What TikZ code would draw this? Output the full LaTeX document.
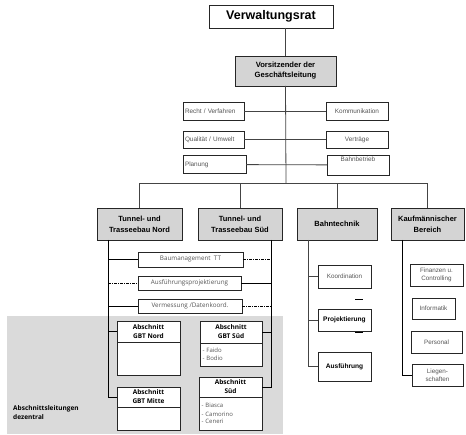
\documentclass[tikz,border=0pt]{standalone}
\usepackage{fontspec}
\setmainfont{Liberation Sans}
\newfontfamily\fru{Open Sans}
\definecolor{boxgray}{HTML}{D4D4D4}
\definecolor{bggray}{HTML}{DADADA}
\definecolor{txtgray}{HTML}{555555}
\definecolor{lngray}{HTML}{444444}
\begin{document}
\begin{tikzpicture}[x=1pt,y=-1pt,
  sz/.style 2 args={minimum width=#1pt, minimum height=#2pt},
  ln/.style={draw=lngray, line width=0.8pt},
  dd/.style={draw=black, line width=0.9pt, dash pattern=on 3pt off 1pt on 1pt off 1pt},
  bx/.style={draw=black!85, line width=0.8pt, fill=white, inner sep=1pt, outer sep=0pt},
  top/.style={bx, font=\fontsize{12.5}{14}\selectfont\bfseries},
  mainbox/.style={bx, fill=boxgray, align=center, font=\fontsize{7.5}{11}\selectfont\bfseries},
  staff/.style={bx, text=txtgray, font=\fontsize{6.4}{7}\selectfont},
  sub/.style={bx, text=txtgray, align=center, font=\fontsize{6.3}{8}\selectfont},
  fbox/.style={bx, text=txtgray, font=\fru\fontsize{6.3}{7}\selectfont},
  head/.style={bx, align=center, font=\fru\fontsize{6.5}{9}\selectfont\bfseries},
  body/.style={bx, align=left, anchor=north, text=txtgray, font=\fru\fontsize{6}{6.5}\selectfont},
  note/.style={align=left, inner sep=0pt, font=\fru\fontsize{6.5}{8.5}\selectfont\bfseries}
]
\useasboundingbox (0,0) rectangle (466,435);
\fill[white] (0,0) rectangle (466,435);
\fill[bggray] (7,316) rectangle (283,434);

% top
\node[top, sz={124}{23}] (vr) at (271,16.5) {Verwaltungsrat};
\node[mainbox, sz={101}{30}, font=\fontsize{7.6}{10}\selectfont\bfseries] (vs) at (285.5,71) {Vorsitzender der\\Geschäftsleitung};

% staff
\node[staff, sz={61}{18}, text width=57pt, align=left] (recht) at (213.5,111) {Recht / Verfahren};
\node[staff, sz={62}{18}, align=center] (komm) at (357,111) {Kommunikation};
\node[staff, sz={61}{17}, text width=57pt, align=left] (qual) at (213.5,139.5) {Qualität / Umwelt};
\node[staff, sz={62}{17}, align=center] (vertr) at (357,139.5) {Verträge};
\node[staff, sz={63}{18}, text width=59pt, align=left] (plan) at (214.5,164.5) {Planung};
\node[staff, sz={62}{20}, align=center] (bahnb) at (358,165) {Bahnbetrieb\\[4pt]};

\coordinate (bar) at (286,183);
\draw[ln] (vs.north |- vr.south) -- (vs.north);
\draw[ln] (recht) -- (komm);
\draw[ln] (qual) -- (vertr);
\draw[ln] (plan) -- (bahnb);
\draw[ln] (vs.south) -- (bar);

% main boxes
\node[mainbox, sz={85}{32}] (tn) at (139.5,224) {Tunnel- und\\Trasseebau Nord};
\node[mainbox, sz={84}{32}] (ts) at (240,224) {Tunnel- und\\Trasseebau Süd};
\node[mainbox, sz={80}{32}] (bt) at (337,224) {Bahntechnik};
\node[mainbox, sz={73}{32}] (kb) at (427.5,224) {Kaufmännischer\\Bereich};

\draw[ln] (tn.north) -- (tn.north |- bar) -- (kb.north |- bar) -- (kb.north);
\draw[ln] (ts.north) -- (ts.north |- bar);
\draw[ln] (bt.north) -- (bt.north |- bar);

% cross-functional boxes
\node[fbox, sz={105}{15}] (bm) at (190.5,259.5) {Baumanagement\ \ TT};
\node[fbox, sz={103}{14}] (ap) at (189.5,283) {Ausführungsprojektierung};
\node[fbox, sz={104}{14}] (vm) at (190,306) {Vermessung /Datenkoord.};

% section boxes
\node[head, sz={63}{21}] (gn) at (148.5,331.5) {Abschnitt\\GBT Nord};
\node[body, sz={63}{33}] (gnb) at (gn.south) {};
\node[head, sz={62}{22}] (gs) at (231,332) {Abschnitt\\GBT Süd};
\node[body, sz={62}{23}, text width=57pt] (gsb) at (gs.south) {- Faido\\[1pt]- Bodio};
\node[head, sz={63}{20}] (gm) at (148.5,397) {Abschnitt\\GBT Mitte};
\node[body, sz={63}{23}] (gmb) at (gm.south) {};
\node[head, sz={63}{20}] (sd) at (230.5,387) {Abschnitt\\Süd};
\node[body, sz={63}{33}, text width=58pt] (sdb) at (sd.south) {- Biasca\\[2.5pt]- Camorino\\- Ceneri\\[4pt]};
\node[note, anchor=west] (dez) at (13,412.5) {Abschnittsleitungen\\dezentral};

\coordinate (lsx) at (108,0);
\coordinate (rsx) at (271,0);
\draw[ln, draw=black] (tn.south -| lsx) -- (gm.west -| lsx) -- (gm.west);
\draw[ln, draw=black] (bm.west -| lsx) -- (bm.west);
\draw[dd] (ap.west -| lsx) -- (ap.west);
\draw[ln, draw=black] (vm.west -| lsx) -- (vm.west);
\draw[ln, draw=black] (gn.west -| lsx) -- (gn.west);
\draw[ln, draw=black] (ts.south -| rsx) -- (sd.east -| rsx) -- (sd.east);
\draw[dd] (bm.east) -- (bm.east -| rsx);
\draw[ln, draw=black] (ap.east) -- (ap.east -| rsx);
\draw[dd] (vm.east) -- (vm.east -| rsx);
\draw[ln, draw=black] (gs.east) -- (gs.east -| rsx);

% Bahntechnik
\node[sub, sz={53}{23}] (koord) at (344.5,276.5) {Koordination};
\node[sub, sz={53}{22}, font=\fontsize{6.6}{8}\selectfont\bfseries, text=black] (proj) at (344.5,320) {Projektierung};
\node[sub, sz={53}{29}, font=\fontsize{6.6}{8}\selectfont\bfseries, text=black] (aus) at (344.5,366.5) {Ausführung};
\coordinate (bsx) at (308,0);
\draw[ln] (bt.south -| bsx) -- (aus.west -| bsx) -- (aus.west);
\draw[ln] (koord.west -| bsx) -- (koord.west);
\draw[ln] (proj.west -| bsx) -- (proj.west);
\draw[line width=0.8pt] (355,299) -- (363,299);
\draw[line width=0.8pt] (355,332) -- (363,332);

% Kaufmaennisch
\node[sub, sz={53}{22}] (fin) at (436.5,275) {Finanzen u.\\Controlling};
\node[sub, sz={43}{21}] (inf) at (433.5,308.5) {Informatik};
\node[sub, sz={51}{22}] (pers) at (436.5,342) {Personal};
\node[sub, sz={51}{22}] (lieg) at (437.5,375) {Liegen-\\schaften};
\coordinate (ksx) at (402,0);
\draw[ln, draw=black] (kb.south -| ksx) -- (lieg.west -| ksx) -- (lieg.west);
\end{tikzpicture}
\end{document}
